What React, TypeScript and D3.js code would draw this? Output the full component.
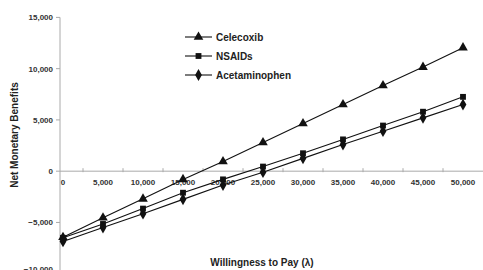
import React, { useEffect, useRef } from 'react';
import * as d3 from 'd3';

const lambdas = [0, 5000, 10000, 15000, 20000, 25000, 30000, 35000, 40000, 45000, 50000];
const celecoxib = [-6450, -4550, -2700, -800, 950, 2800, 4650, 6500, 8350, 10150, 12050];
const nsaids = [-6500, -5150, -3650, -2100, -800, 450, 1750, 3100, 4450, 5800, 7250];
const acetaminophen = [-6850, -5500, -4150, -2750, -1350, -100, 1250, 2600, 3900, 5200, 6500];
const yTicks = [15000, 10000, 5000, 0, -5000, -10000];

const seriesList = [
  { name: 'Celecoxib', values: celecoxib, symbol: d3.symbolTriangle, size: 40 },
  { name: 'NSAIDs', values: nsaids, symbol: d3.symbolSquare, size: 34 },
  { name: 'Acetaminophen', values: acetaminophen, symbol: d3.symbolDiamond, size: 40 },
];

const fmt = d3.format(',');

export default function App() {
  const svgRef = useRef<SVGSVGElement>(null);

  useEffect(() => {
    if (!svgRef.current) return;
    const svg = d3.select(svgRef.current);
    svg.selectAll('*').remove();

    const font = '"Liberation Sans", Arial, sans-serif';
    const x = d3.scaleLinear().domain([0, 50000]).range([63, 463]);
    const y = d3.scaleLinear().domain([-10000, 15000]).range([273.7, 17.4]);
    const axisColor = '#aaa';

    // y axis
    svg.append('line')
      .attr('x1', 60).attr('x2', 60)
      .attr('y1', y(15000)).attr('y2', 270)
      .attr('stroke', axisColor).attr('stroke-width', 1);

    yTicks.forEach(t => {
      svg.append('line')
        .attr('x1', 56).attr('x2', 60)
        .attr('y1', y(t)).attr('y2', y(t))
        .attr('stroke', axisColor);
      // bottom label is cropped by the picture edge, as in the source
      svg.append('text')
        .attr('x', 53).attr('y', Math.min(y(t) + 3, 272))
        .attr('text-anchor', 'end')
        .attr('font-family', font).attr('font-size', 8).attr('font-weight', 'bold')
        .attr('fill', '#333')
        .text(fmt(t));
    });

    // x axis
    svg.append('line')
      .attr('x1', 60).attr('x2', 483)
      .attr('y1', y(0)).attr('y2', y(0))
      .attr('stroke', axisColor);

    lambdas.forEach((l, i) => {
      if (i > 0) {
        const mx = (x(l) + x(lambdas[i - 1])) / 2;
        svg.append('line')
          .attr('x1', mx).attr('x2', mx)
          .attr('y1', y(0) - 3).attr('y2', y(0) + 1)
          .attr('stroke', axisColor);
      }
      svg.append('text')
        .attr('x', x(l)).attr('y', y(0) + 14)
        .attr('text-anchor', 'middle')
        .attr('font-family', font).attr('font-size', 8).attr('font-weight', 'bold')
        .attr('fill', '#333')
        .text(fmt(l));
    });

    // axis titles
    svg.append('text')
      .attr('transform', `translate(18,135) rotate(-90)`)
      .attr('text-anchor', 'middle')
      .attr('font-family', font).attr('font-size', 10).attr('font-weight', 'bold')
      .attr('fill', '#222')
      .text('Net Monetary Benefits');

    svg.append('text')
      .attr('x', 262).attr('y', 266)
      .attr('text-anchor', 'middle')
      .attr('font-family', font).attr('font-size', 10).attr('font-weight', 'bold')
      .attr('fill', '#222')
      .text('Willingness to Pay (λ)');

    const line = d3.line<number>()
      .x((_, i) => x(lambdas[i]))
      .y(d => y(d));

    seriesList.forEach((s, si) => {
      svg.append('path')
        .datum(s.values)
        .attr('fill', 'none')
        .attr('stroke', '#111')
        .attr('stroke-width', 1.1)
        .attr('d', line);

      svg.selectAll(`.pt${si}`)
        .data(s.values)
        .enter()
        .append('path')
        .attr('class', `pt${si}`)
        .attr('transform', (d, i) => `translate(${x(lambdas[i])},${y(d)})`)
        .attr('d', d3.symbol().type(s.symbol).size(s.size)())
        .attr('fill', '#111');

      // legend
      const ly = 37 + si * 19;
      svg.append('line')
        .attr('x1', 185).attr('x2', 212)
        .attr('y1', ly).attr('y2', ly)
        .attr('stroke', '#111').attr('stroke-width', 1.1);
      svg.append('path')
        .attr('transform', `translate(198.5,${ly})`)
        .attr('d', d3.symbol().type(s.symbol).size(s.size)())
        .attr('fill', '#111');
      svg.append('text')
        .attr('x', 216).attr('y', ly + 3.5)
        .attr('font-family', font).attr('font-size', 10).attr('font-weight', 'bold')
        .attr('fill', '#222')
        .text(s.name);
    });
  }, []);

  return (
    <div style={{ position: 'fixed', left: 0, top: 0, width: 483, height: 270, background: '#fff' }}>
      <svg ref={svgRef} width={483} height={270} style={{ display: 'block' }} />
    </div>
  );
}
